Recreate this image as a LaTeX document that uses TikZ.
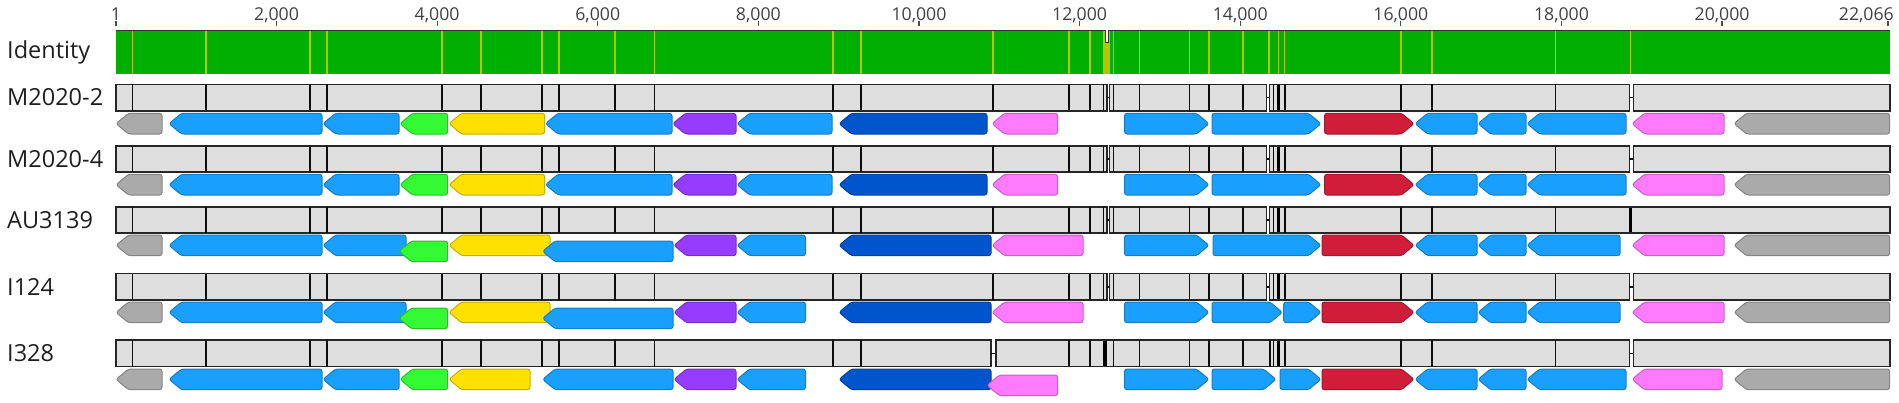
\documentclass[tikz,border=0pt]{standalone}
\usepackage{fontspec}
\setmainfont{Open Sans}
\definecolor{gfill}{RGB}{0,176,0}
\definecolor{idline}{RGB}{185,195,0}
\definecolor{barfill}{RGB}{222,222,222}
\definecolor{cgray}{RGB}{170,170,170}
\definecolor{cblue}{RGB}{25,160,255}
\definecolor{cgreen}{RGB}{51,250,51}
\definecolor{cyellow}{RGB}{255,224,0}
\definecolor{cpurple}{RGB}{150,60,255}
\definecolor{cdblue}{RGB}{0,85,204}
\definecolor{cpink}{RGB}{255,122,255}
\definecolor{cred}{RGB}{208,30,58}
\definecolor{txt}{RGB}{30,30,30}
\tikzset{
  gene/.style={fill=#1, draw=#1!78!black, line width=1pt, rounded corners=2.5pt, line join=round},
  bar/.style={fill=barfill, draw=black!85, line width=1.6pt},
  divl/.style={draw=black!95, line width=1.5pt},
  thickl/.style={draw=black, line width=3.2pt},
  rowlabel/.style={anchor=west, font=\fontsize{23.5}{28}\selectfont, text=txt, inner sep=0pt},
  ticklabel/.style={anchor=base, font=\fontsize{17.7}{21}\selectfont, text=txt!85, inner sep=0pt},
  tickmark/.style={draw=black!70, line width=1.2pt},
  idl/.style={draw=idline, line width=1.5pt}
}
% left-pointing gene: tip x, right x, top y, colour
\newcommand\GL[4]{\draw[gene=#4] (#1,#3+10.35) -- ({min(#1+12.5,#2)},#3) -- (#2,#3) -- (#2,#3+20.7) -- ({min(#1+12.5,#2)},#3+20.7) -- cycle;}
% right-pointing gene: left x, tip x, top y, colour
\newcommand\GR[4]{\draw[gene=#4] (#1,#3) -- ({max(#2-12.5,#1)},#3) -- (#2,#3+10.35) -- ({max(#2-12.5,#1)},#3+20.7) -- (#1,#3+20.7) -- cycle;}
% bar segment with division lines: left, right, top, list of lines
\newcommand\Seg[4]{\draw[bar] (#1,#3) rectangle (#2,#3+26.5);
  \foreach \xx in {#4} {\draw[divl] (\xx,#3) -- (\xx,#3+26.5);}}
\newcommand\Thick[2]{\draw[thickl] (#1,#2+0.8) -- (#1,#2+25.7);}
\newcommand\Gap[3]{\draw[divl] (#1,#3+13.25) -- (#2,#3+13.25);}
\newcommand\StdBar[2]{% top, has last gap (1/0)
  \Seg{116}{1106.7}{#1}{132.6,206,310,327,442,481,542,559,615,654.5,832.8,861,993,1069,1090,1103.3}
  \Gap{1106.7}{1109.3}{#1}
  \Seg{1109.3}{1266.5}{#1}{1113.3,1139.3,1189.3,1209,1242.8}
  \Gap{1266.5}{1269.5}{#1}
  \ifnum#2=1
    \Seg{1269.5}{1629.3}{#1}{1273.3,1285,1400.8,1431.8,1555.4}
    \Gap{1629.3}{1633.3}{#1}
    \Seg{1633.3}{1890}{#1}{}
  \else
    \Seg{1269.5}{1890}{#1}{1273.3,1285,1400.8,1431.8,1555.4}
    \Thick{1630.5}{#1}
  \fi
  \Thick{1278.8}{#1}}
\begin{document}
\begin{tikzpicture}[x=1pt,y=-1pt]
\useasboundingbox (0,0) rectangle (1899,402);
% ---- axis ----
\foreach \p/\lab in {0.001/1,2/{2,000},4/{4,000},6/{6,000},8/{8,000},10/{10,000},12/{12,000},14/{14,000},16/{16,000},18/{18,000},20/{20,000}} {
  \pgfmathsetmacro\xp{116+\p*80.308-0.080308}
  \node[ticklabel] (t\p) at (\xp,20) {\lab};
  \draw[tickmark] (\xp,21) -- (\xp,26);
}
\node[ticklabel, anchor=base east] (tend) at (1894,20) {22,066};
\draw[tickmark] (1888,21) -- (1888,26);
% ---- identity ----
\fill[gfill] (116,30) rectangle (1890,74);
\foreach \xx in {132.6,206,310,327,442,481,542,559,615,654.5,832.8,861,993,1069,1090,1113.3,1139.3,1189.3,1209,1242.8,1269,1278.5,1284.5,1400.8,1431.8,1555.4,1630.5}
  {\draw[idl] (\xx,30) -- (\xx,74);}
\fill[idline] (1102.5,30) rectangle (1110,74);
\fill[white] (1105.3,29) rectangle (1108.3,42);
\draw[black!80, line width=0.9pt] (116,30) -- (1105.3,30) -- (1105.3,42) -- (1108.3,42) -- (1108.3,30) -- (1890,30);
\node[rowlabel] (lid) at (7,52) {Identity};
% ---- row labels ----
\node[rowlabel] (l1) at (7,97.5) {M2020-2};
\node[rowlabel] (l2) at (7,159) {M2020-4};
\node[rowlabel] (l3) at (7,220) {AU3139};
\node[rowlabel] (l4) at (7,287) {I124};
\node[rowlabel] (l5) at (7,353) {I328};
% ---- bars ----
\StdBar{84.3}{1}
\StdBar{145.7}{1}
\StdBar{206.7}{0}
\StdBar{273.5}{1}
% row 5
\Seg{116}{991}{340}{132.6,206,310,327,442,481,542,559,615,654.5,832.8,861}
\Gap{991}{996}{340}
\Seg{996}{1629.3}{340}{1069,1090,1113.3,1139.3,1189.3,1209,1242.8,1270,1273.3,1285,1400.8,1431.8,1555.4}
\Thick{1105}{340}
\Thick{1278.8}{340}
\Gap{1629.3}{1633.3}{340}
\Seg{1633.3}{1890}{340}{}
% ---- genes rows 1 and 2 ----
\foreach \yy in {113.3,174.3} {
\GL{116}{162}{\yy}{cgray}
\GL{169}{322}{\yy}{cblue}
\GL{323}{399}{\yy}{cblue}
\GL{400}{447.6}{\yy}{cgreen}
\GL{449}{544.7}{\yy}{cyellow}
\GL{545.5}{672}{\yy}{cblue}
\GL{672.8}{736}{\yy}{cpurple}
\GL{737}{832}{\yy}{cblue}
\GL{839}{987}{\yy}{cdblue}
\GL{992}{1057.6}{\yy}{cpink}
\GR{1124.5}{1209}{\yy}{cblue}
\GR{1212}{1321}{\yy}{cblue}
\GR{1324.5}{1414}{\yy}{cred}
\GL{1415}{1477}{\yy}{cblue}
\GL{1478}{1526}{\yy}{cblue}
\GL{1527}{1626}{\yy}{cblue}
\GL{1632}{1724}{\yy}{cpink}
\GL{1734}{1889.6}{\yy}{cgray}
}
% ---- genes rows 3 and 4 ----
\foreach \yy in {235,302} {
\GL{116}{162}{\yy}{cgray}
\GL{169}{322}{\yy}{cblue}
\GL{323}{406}{\yy}{cblue}
\GL{399}{447.6}{\yy+6}{cgreen}
\GL{449}{550}{\yy}{cyellow}
\GL{542.6}{673}{\yy+6}{cblue}
\GL{674}{736}{\yy}{cpurple}
\GL{737}{805.5}{\yy}{cblue}
\GL{839}{991}{\yy}{cdblue}
\GL{992}{1083}{\yy}{cpink}
\GR{1124.5}{1209}{\yy}{cblue}
\GL{1415}{1477}{\yy}{cblue}
\GL{1478}{1526}{\yy}{cblue}
\GL{1527}{1620}{\yy}{cblue}
\GL{1632}{1724}{\yy}{cpink}
\GL{1734}{1889.6}{\yy}{cgray}
}
\GR{1213}{1321}{235}{cblue}
\GR{1322}{1414}{235}{cred}
\GR{1212}{1282.4}{302}{cblue}
\GR{1283.7}{1321}{302}{cblue}
\GR{1322}{1414}{302}{cred}
% ---- genes row 5 ----
\def\yy{369}
\GL{116}{162}{\yy}{cgray}
\GL{169}{322}{\yy}{cblue}
\GL{323}{399}{\yy}{cblue}
\GL{400}{447.6}{\yy}{cgreen}
\GL{449}{530}{\yy}{cyellow}
\GL{542.6}{673}{\yy}{cblue}
\GL{674}{736}{\yy}{cpurple}
\GL{737}{805.5}{\yy}{cblue}
\GL{839}{991}{\yy}{cdblue}
\GL{987}{1057.6}{\yy+6}{cpink}
\GR{1124.5}{1209}{\yy}{cblue}
\GR{1212}{1276}{\yy}{cblue}
\GR{1280}{1321}{\yy}{cblue}
\GR{1322}{1414}{\yy}{cred}
\GL{1415}{1477}{\yy}{cblue}
\GL{1478}{1526}{\yy}{cblue}
\GL{1527}{1626}{\yy}{cblue}
\GL{1632}{1722}{\yy}{cpink}
\GL{1734}{1889.6}{\yy}{cgray}
\end{tikzpicture}
\end{document}
